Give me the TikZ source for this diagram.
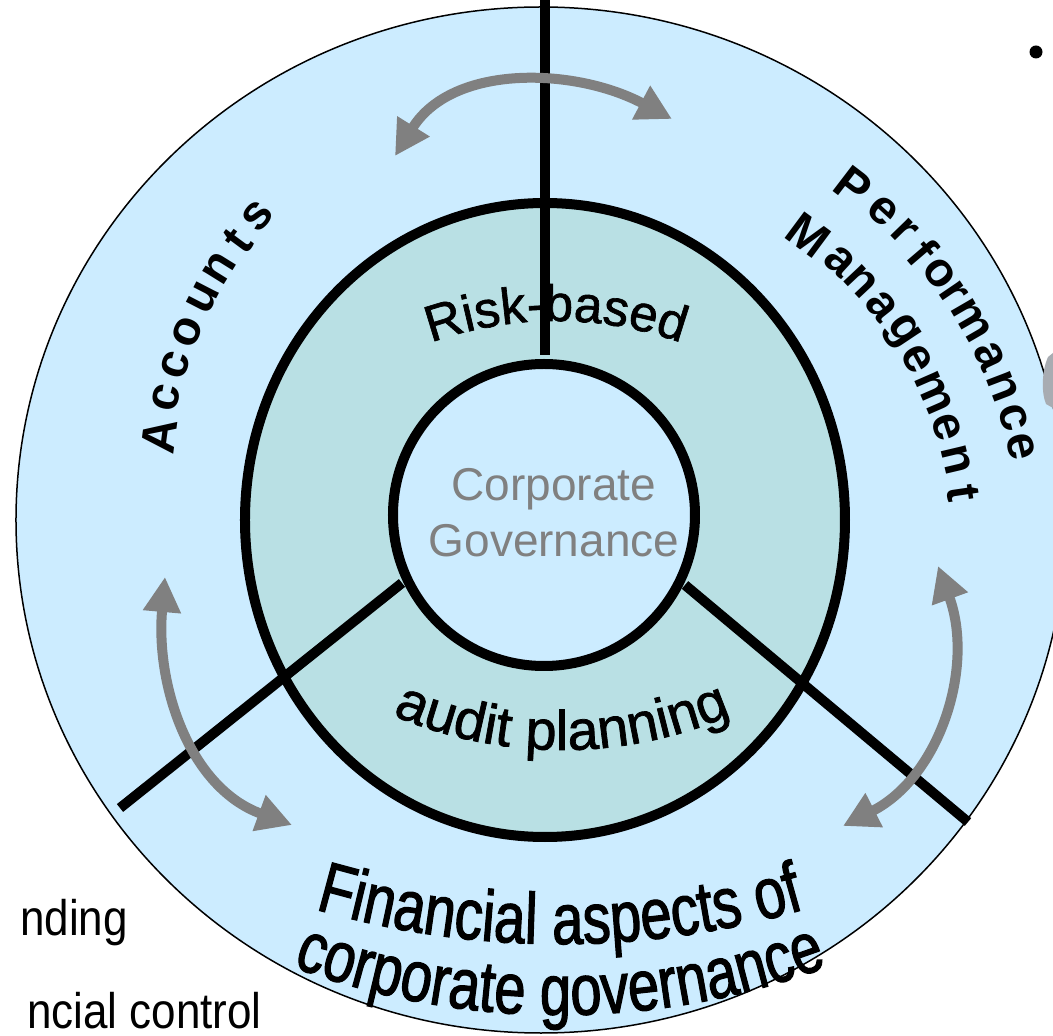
\documentclass[tikz,border=0pt]{standalone}
\usepackage{fontspec}
\setmainfont{Liberation Sans}
\newfontfamily\heavyfont[FakeBold=1.3]{Liberation Sans}
\newfontfamily\widefont[FakeStretch=0.78, FakeBold=1.6]{Liberation Sans}
\newfontfamily\slidefont[FakeStretch=0.88]{Liberation Sans}
\usetikzlibrary{arrows.meta,decorations.text}
\definecolor{paleblue}{RGB}{204,236,255}
\definecolor{ringteal}{RGB}{185,224,228}
\definecolor{midgray}{RGB}{128,128,128}
\definecolor{slivergray}{RGB}{168,172,178}

\begin{document}
\begin{tikzpicture}[x=1pt, y=1pt]
  \tikzstyle{outerring}=[draw=black, line width=1.5pt, fill=paleblue]
  \tikzstyle{midring}=[draw=black, line width=10pt, fill=ringteal]
  \tikzstyle{core}=[draw=black, line width=10pt, fill=paleblue]
  \tikzstyle{divider}=[draw=black, line width=10pt]
  \tikzstyle{linkarrow}=[draw=midgray, line width=10pt, {Triangle[length=35pt,width=36pt]}-{Triangle[length=35pt,width=36pt]}]
  \tikzstyle{arcletter}=[font=\fontsize{48}{48}\selectfont\bfseries, inner sep=0pt]
  \tikzstyle{fragment}=[anchor=base east, font=\slidefont\fontsize{50}{50}\selectfont, inner sep=0pt]

  \useasboundingbox (-545,-516) rectangle (508,520);

  % Rings
  \path[outerring] (-4,0) ellipse [x radius=525, y radius=513];
  \path[midring] (0,0) ellipse [x radius=300, y radius=317];

  % Dividers
  \coordinate (topEnd) at (0,520);
  \coordinate (topStop) at (0,165);
  \coordinate (leftOut) at (-425,-288);
  \coordinate (leftIn) at (-143,-63);
  \coordinate (rightIn) at (140,-65);
  \coordinate (rightOut) at (423,-302);
  \draw[divider] (leftOut) -- (leftIn);
  \draw[divider] (rightIn) -- (rightOut);
  \draw[divider] (topEnd) -- (topStop);

  % Centre
  \path[core] (-1,5) circle [radius=151];
  \node[align=center, text=midgray, font=\fontsize{46}{56}\selectfont] (gov) at (9,7) {Corporate\\Governance};

  % Inner ring texts
  \path[decorate, decoration={text along path, text align=center,
      text={|\heavyfont\fontsize{51}{51}\selectfont|Risk-based}}]
    ([shift={(11,-171)}]120:370) arc [start angle=120, end angle=60, radius=370];
  \path[decorate, decoration={text along path, text align=center,
      text={|\heavyfont\fontsize{56}{56}\selectfont|audit planning}}]
    ([shift={(17,199)}]240:429) arc [start angle=240, end angle=300, radius=429];

  % Outer ring texts
  \foreach \ang/\ch [count=\i] in {172.6/A,167.3/c,162.7/c,157.8/o,152.7/u,148.1/n,143.5/t,139.2/s}
    \node[arcletter, rotate=\ang-90] (acc\i) at ([shift={(30,30)}]\ang:419) {\ch};
  \foreach \ang/\ch [count=\i] in {52.6/P,47.8/e,44.1/r,40.5/f,37.2/o,34.2/r,30.1/m,25.0/a,20.9/n,16.8/c,13.1/e}
    \node[arcletter, rotate=\ang-90] (perf\i) at ([shift={(30,-30)}]\ang:458) {\ch};
  \foreach \ang/\ch [count=\i] in {53.4/M,47.4/a,43.2/n,38.5/a,33.7/g,29.1/e,23.6/m,18.3/e,13.3/n,8.4/t}
    \node[arcletter, rotate=\ang-90] (mgmt\i) at ([shift={(30,-30)}]\ang:392) {\ch};
  \path[decorate, decoration={text along path, text align=center,
      text={|\widefont\fontsize{72}{72}\selectfont|Financial aspects of}}]
    ([shift={(15,455)}]248:879) arc [start angle=248, end angle=292, radius=879];
  \path[decorate, decoration={text along path, text align=center,
      text={|\widefont\fontsize{72}{72}\selectfont|corporate governance}}]
    ([shift={(15,270)}]240:765) arc [start angle=240, end angle=300, radius=765];

  % Arrows
  \coordinate (accTop) at (-150,364);
  \coordinate (perfTop) at (127,401);
  \coordinate (accLow) at (-380,-57);
  \coordinate (finLeft) at (-253,-305);
  \coordinate (perfLow) at (393,-46);
  \coordinate (finRight) at (298,-306);
  \draw[linkarrow] (accTop) to[out=58, in=152] (perfTop);
  \draw[linkarrow] (accLow) to[out=265, in=160] (finLeft);
  \draw[linkarrow] (perfLow) to[out=290, in=27] (finRight);

  % Slide leftovers
  \node[fragment] (frag1) at (-417,-415) {nding};
  \node[fragment] (frag2) at (-283,-508) {ncial control};
  \node[circle, fill=black, inner sep=0pt, minimum size=13pt] (dot) at (491,468) {};
  \fill[slivergray] (508,167) -- (503,163) .. controls (497,150) and (496,128) .. (501,116) -- (508,112) -- cycle;
\end{tikzpicture}
\end{document}
